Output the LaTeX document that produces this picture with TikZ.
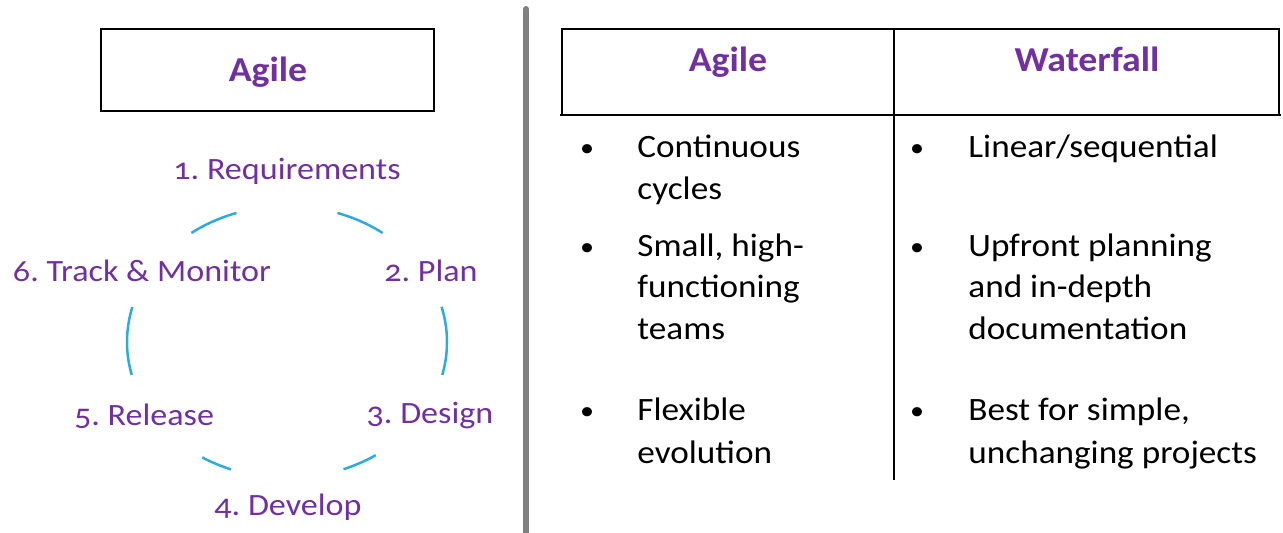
\documentclass[tikz,border=0pt]{standalone}
\usepackage{fontspec}
\setmainfont{Carlito}
\newfontfamily\cyclefont{Carlito}[Numbers=OldStyle,FakeStretch=1.1]
\newfontfamily\cellfont{Carlito}[FakeStretch=1.08]
\definecolor{agilepurple}{HTML}{7030A0}
\definecolor{cycleblue}{HTML}{2EAAE2}
\definecolor{splitgray}{HTML}{808080}
\frenchspacing
\begin{document}
\begin{tikzpicture}[x=0.5pt,y=-0.5pt,
  cyclelabel/.style={inner sep=0pt, anchor=base, text=agilepurple,
    font=\cyclefont\fontsize{15.5}{18}\selectfont},
  headlabel/.style={inner sep=0pt, anchor=base, text=agilepurple,
    font=\cellfont\bfseries\fontsize{17.5}{20}\selectfont},
  celltext/.style={inner sep=0pt, anchor=base west,
    font=\cellfont\fontsize{16.3}{20}\selectfont},
  bulletmark/.style={inner sep=0pt, anchor=base,
    font=\cellfont\fontsize{13}{16}\selectfont},
  cyclearc/.style={draw=cycleblue, line width=1.25pt},
  frame/.style={draw=black, line width=1.4pt}]
\useasboundingbox (0,0) rectangle (1283,533);

% ---- left: the agile cycle ----
\draw[frame] (101,29) rectangle (434,111);
\node[headlabel] (agilebox) at (268,82) {Agile};

\node[cyclelabel] (req)     at (287,180) {1. Requirements};
\node[cyclelabel] (plan)    at (431,282) {2. Plan};
\node[cyclelabel] (design)  at (430,423) {3. Design};
\node[cyclelabel] (develop) at (288,515) {4. Develop};
\node[cyclelabel] (release) at (144,425) {5. Release};
\node[cyclelabel] (track)   at (142,282) {6. Track \& Monitor};

% arcs of the cycle, centre (287,342), radii 160 x 136
\foreach \a/\b in {233.3/251.6, 288.4/306.7, 345/374, 56.3/69.3, 110.5/122, 166/194.9}
  \draw[cyclearc] plot[domain=\a:\b, samples=24, smooth]
    ({287+160*cos(\x)},{342+136*sin(\x)});

% ---- separator ----
\draw[splitgray, line width=3pt, line cap=round] (526,9) -- (526,560);

% ---- right: comparison table ----
\draw[frame] (562,115) -- (562,29) -- (1279,29) -- (1279,115);
\draw[frame] (560,115) -- (1281,115);
\draw[frame] (894,29) -- (894,480);

\node[headlabel] (hagile) at (728,72) {Agile};
\node[headlabel] (hwater) at (1087,72) {Waterfall};

% agile column
\node[bulletmark] (ba1) at (587,157) {•};
\node[celltext] (a1a) at (637,158) {Continuous};
\node[celltext] (a1b) at (637,200) {cycles};
\node[bulletmark] (ba2) at (587,256) {•};
\node[celltext] (a2a) at (637,257) {Small, high-};
\node[celltext] (a2b) at (637,298) {functioning};
\node[celltext] (a2c) at (637,340) {teams};
\node[bulletmark] (ba3) at (587,420) {•};
\node[celltext] (a3a) at (637,421) {Flexible};
\node[celltext] (a3b) at (637,463) {evolution};

% waterfall column
\node[bulletmark] (bw1) at (917,157) {•};
\node[celltext] (w1a) at (968,158) {Linear/sequential};
\node[bulletmark] (bw2) at (917,256) {•};
\node[celltext] (w2a) at (968,257) {Upfront planning};
\node[celltext] (w2b) at (968,298) {and in-depth};
\node[celltext] (w2c) at (968,340) {documentation};
\node[bulletmark] (bw3) at (917,420) {•};
\node[celltext] (w3a) at (968,421) {Best for simple,};
\node[celltext] (w3b) at (968,463) {unchanging projects};
\end{tikzpicture}
\end{document}
